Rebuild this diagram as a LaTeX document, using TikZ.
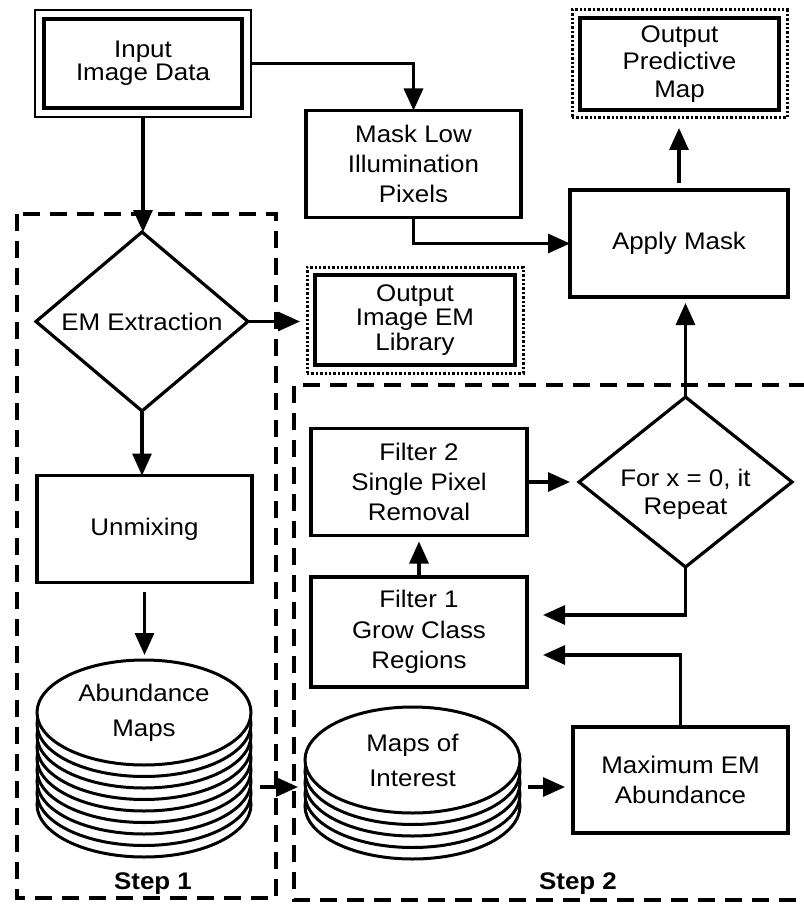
\documentclass[tikz,border=0pt]{standalone}
\usepackage{fontspec}
\setmainfont{Liberation Sans}[FakeStretch=1.08]
\usetikzlibrary{arrows.meta,shapes.geometric}
\begin{document}
\begin{tikzpicture}[x=1pt,y=-1pt,
  every node/.style={align=center, inner sep=0pt, outer sep=0pt},
  txt/.style={font=\fontsize{24}{#1}\selectfont},
  txt/.default=30,
  proc/.style={draw, line width=3.2pt, rectangle, minimum width=215pt, minimum height=107pt},
  outb/.style={draw, line width=3pt, dash pattern=on 2.4pt off 2pt, rectangle, minimum width=215pt, minimum height=108pt},
  innerb/.style={line width=3.4pt},
  diam/.style={draw, line width=3.2pt, diamond, minimum width=212pt, minimum height=171pt},
  disk/.style={draw, fill=white, line width=3pt, ellipse, minimum width=214pt, minimum height=105pt},
  diskline/.style={draw, fill=white, line width=3pt},
  arr/.style={line width=3.2pt, -{Triangle[length=22pt,width=19pt]}},
  grp/.style={line width=3.2pt, dash pattern=on 17pt off 10pt},
  lab/.style={font=\fontsize{24}{30}\selectfont\bfseries}]
\useasboundingbox (0,0) rectangle (803,904);

% group frames
\draw[grp] (17,214) rectangle (276,898);
\draw[grp] (806,385) -- (294,385) -- (294,900) -- (806,900);

% input (double border)
\node[draw, line width=2.8pt, minimum width=216pt, minimum height=107pt, txt=23] (in) at (143,63.5) {Input\\Image Data};
\draw[innerb] ([shift={(9,9)}]in.north west) rectangle ([shift={(-9,-9)}]in.south east);

% top right
\node[proc, txt] (mask) at (413.5,164) {Mask Low\\Illumination\\Pixels};
\node[proc, minimum width=218pt, txt] (apply) at (679,243.5) {Apply Mask};
\node[outb, txt=27.5] (outpm) at (679.5,64) {Output\\Predictive\\Map};
\draw[innerb] ([shift={(8,8)}]outpm.north west) rectangle ([shift={(-8,-8)}]outpm.south east);
\node[outb, minimum width=216pt, minimum height=106pt, txt=24.5] (outem) at (415,320) {Output\\Image EM\\Library};
\draw[innerb] ([shift={(8,8)}]outem.north west) rectangle ([shift={(-8,-8)}]outem.south east);

% step 1
\node[diam, txt] (emx) at (142,321.5) {EM Extraction};
\node[proc, txt] (unmix) at (144.5,529) {Unmixing};
\foreach \k in {8,7,...,1}
  \draw[diskline] (144,{712.5+11.5*\k}) ellipse [x radius=107pt, y radius=52.5pt];
\node[disk, txt=35] (ab) at (144,712.5) {Abundance\\Maps};
\node[lab] (s1) at (153,884) {Step 1};

% step 2
\node[proc, minimum width=216pt, txt] (f2) at (419,482) {Filter 2\\Single Pixel\\Removal};
\node[proc, minimum width=216pt, minimum height=110pt, txt=30.5] (f1) at (419,632) {Filter 1\\Grow Class\\Regions};
\node[diam, minimum width=213pt, minimum height=170pt] (rep) at (685.5,482) {};
\node[txt=28] (reptxt) at (685.5,494) {For x = 0, it\\Repeat};
\foreach \k in {4,3,2,1}
  \draw[diskline] (412.5,{760+11.5*\k}) ellipse [x radius=107.5pt, y radius=53pt];
\node[disk, minimum width=215pt, minimum height=106pt, txt=35] (moi) at (412.5,760) {Maps of\\Interest};
\node[proc, minimum height=106pt, txt] (maxem) at (680.5,780) {Maximum EM\\Abundance};
\node[lab] (s2) at (578,884) {Step 2};

% connectors
\draw[arr] (in.east) -| (mask.north);
\draw[arr] (in.south) -- (in.south |- emx.north);
\draw[arr, shorten >=7pt] (emx.east) -- (emx.east -| outem.west);
\draw[arr] (emx.south) -- (emx.south |- unmix.north);
\draw[arr, shorten <=9pt, shorten >=5pt] (unmix.south) -- (unmix.south |- ab.north);
\coordinate (a1) at ([yshift=-74.5pt]ab.east);
\draw[arr, shorten <=9pt, shorten >=7pt] (a1) -- (a1 -| moi.west);
\coordinate (a2) at ([yshift=-27pt]moi.east);
\draw[arr, shorten <=8pt, shorten >=8pt] (a2) -- (a2 -| maxem.west);
\coordinate (a3) at ([yshift=-23pt]f1.east);
\draw[arr, shorten >=16pt] (maxem.north) |- (a3);
\coordinate (a4) at ([yshift=17pt]f1.east);
\draw[arr, shorten >=16pt] (rep.south) |- (a4);
\draw[arr, shorten >=6pt] (f1.north) -- (f2.south);
\draw[arr, shorten >=9pt] (f2.east) -- (f2.east -| rep.west);
\draw[arr, shorten >=6pt] (rep.north) -- (rep.north |- apply.south);
\draw[arr] (mask.south) |- (apply.west);
\draw[arr, shorten <=7pt, shorten >=10pt] (apply.north) -- (apply.north |- outpm.south);
\end{tikzpicture}
\end{document}
